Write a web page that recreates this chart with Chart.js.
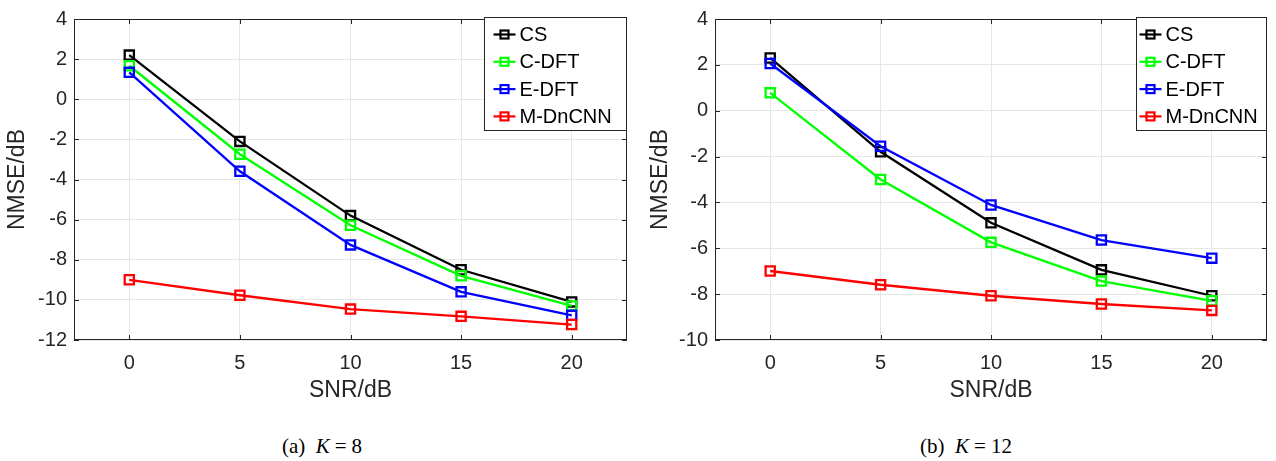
<!DOCTYPE html>
<html>
<head>
<meta charset="utf-8">
<script src="https://cdn.jsdelivr.net/npm/chart.js@4/dist/chart.umd.min.js"></script>
<style>
  body { margin: 0; background: #fff; }
  #wrap { position: relative; width: 1276px; height: 461px; overflow: hidden; }
  .panel { position: absolute; top: 0; width: 638px; height: 405px; }
  .cap { position: absolute; top: 434px; width: 240px; text-align: center;
         font-family: "Liberation Serif", "DejaVu Serif", serif; font-size: 21px; line-height: 24px; color: #000; }
  .cap i { font-style: italic; }
  .cap .eq { margin: 0 5px; }
</style>
</head>
<body>
<div id="wrap">
  <div class="panel" style="left:0"><canvas id="c8" width="638" height="405"></canvas></div>
  <div class="panel" style="left:638px"><canvas id="c12" width="638" height="405"></canvas></div>
  <div class="cap" style="left:202px">(a)&nbsp; <i>K</i><span class="eq">=</span>8</div>
  <div class="cap" style="left:846px">(b)&nbsp; <i>K</i><span class="eq">=</span>12</div>
</div>
<script>
// values
const snr = [0, 5, 10, 15, 20];
const seriesNames = ['CS', 'C-DFT', 'E-DFT', 'M-DnCNN'];

const cs8   = [2.2, -2.1, -5.8, -8.5, -10.1];
const cdft8 = [1.67, -2.74, -6.28, -8.8, -10.3];
const edft8 = [1.34, -3.59, -7.26, -9.6, -10.77];
const mdn8  = [-9.0, -9.77, -10.46, -10.82, -11.23];

const cs12   = [2.3, -1.79, -4.89, -6.94, -8.07];
const cdft12 = [0.78, -3.0, -5.74, -7.43, -8.29];
const edft12 = [2.06, -1.55, -4.11, -5.64, -6.43];
const mdn12  = [-6.99, -7.59, -8.07, -8.43, -8.71];

const xTicks = [0, 5, 10, 15, 20];
const yTicks8 = [-12, -10, -8, -6, -4, -2, 0, 2, 4];
const yTicks12 = [-10, -8, -6, -4, -2, 0, 2, 4];

const colors = ['#000000', '#00ff00', '#0000ff', '#ff0000'];
const axisColor = '#262626';
const sans = '"Liberation Sans", Arial, Helvetica, sans-serif';

// box around the axes with inward ticks, then the legend on top
const matlabBox = {
    id: 'matlabBox',
    afterDraw(chart, args, opts) {
        const { ctx, chartArea: a, scales } = chart;
        ctx.save();
        ctx.strokeStyle = axisColor;
        ctx.lineWidth = 1;
        ctx.strokeRect(a.left + 0.5, a.top + 0.5, a.right - a.left - 1, a.bottom - a.top - 1);
        ctx.beginPath();
        scales.x.ticks.forEach(t => {
            const px = Math.round(scales.x.getPixelForValue(t.value)) + 0.5;
            ctx.moveTo(px, a.bottom); ctx.lineTo(px, a.bottom - 5);
            ctx.moveTo(px, a.top); ctx.lineTo(px, a.top + 5);
        });
        scales.y.ticks.forEach(t => {
            const py = Math.round(scales.y.getPixelForValue(t.value)) + 0.5;
            ctx.moveTo(a.left, py); ctx.lineTo(a.left + 5, py);
            ctx.moveTo(a.right, py); ctx.lineTo(a.right - 5, py);
        });
        ctx.stroke();

        // legend box
        const bw = opts.boxWidth, bh = 113;
        const bx = a.right - bw + 0.5, by = a.top - 1.5;
        ctx.fillStyle = '#fff';
        ctx.fillRect(bx, by, bw, bh);
        ctx.strokeStyle = axisColor;
        ctx.lineWidth = 1;
        ctx.strokeRect(bx, by, bw - 1, bh);
        ctx.font = '20px ' + sans;
        ctx.textBaseline = 'middle';
        ctx.textAlign = 'left';
        chart.data.datasets.forEach((ds, i) => {
            const cy = by + 17 + 27.3 * i;
            const lx = bx + opts.padLeft;
            ctx.strokeStyle = ds.borderColor;
            ctx.lineWidth = 2.2;
            ctx.beginPath();
            ctx.moveTo(lx, cy); ctx.lineTo(lx + 22, cy);
            ctx.stroke();
            ctx.strokeRect(lx + 7, cy - 4, 8, 8);
            ctx.fillStyle = '#000';
            ctx.fillText(ds.label, lx + 26, cy + 1);
        });
        ctx.restore();
    }
};

function makeChart(id, values, yTicks, layout) {
    const datasets = values.map((vals, i) => ({
        label: seriesNames[i],
        data: vals.map((v, j) => ({ x: snr[j], y: v })),
        borderColor: colors[i],
        backgroundColor: 'rgba(0,0,0,0)',
        borderWidth: 2.3,
        pointStyle: 'rect',
        pointRadius: 6.5,
        pointBorderWidth: 2.3,
        pointBackgroundColor: 'rgba(0,0,0,0)',
        pointBorderColor: colors[i],
        tension: 0,
        order: values.length - i,
    }));

    return new Chart(document.getElementById(id), {
        type: 'line',
        data: { datasets },
        plugins: [matlabBox],
        options: {
            responsive: false,
            animation: false,
            devicePixelRatio: 1,
            layout: { padding: { left: 0, right: layout.padRight, top: 13, bottom: 0 } },
            plugins: {
                legend: { display: false },
                tooltip: { enabled: false },
                matlabBox: { boxWidth: layout.boxWidth, padLeft: layout.legendPad },
            },
            scales: {
                x: {
                    type: 'linear',
                    min: -2.5,
                    max: 22.5,
                    afterBuildTicks: s => { s.ticks = xTicks.map(v => ({ value: v })); },
                    afterFit: s => { s.height = 65; },
                    grid: { color: '#e6e6e6', drawTicks: false },
                    border: { display: false },
                    ticks: { color: axisColor, padding: 11, font: { family: sans, size: 20 }, callback: v => String(v) },
                    title: { display: true, text: 'SNR/dB', color: axisColor,
                             font: { family: sans, size: 23 }, padding: { top: 0, bottom: 1 } },
                },
                y: {
                    type: 'linear',
                    min: yTicks[0],
                    max: yTicks[yTicks.length - 1],
                    afterBuildTicks: s => { s.ticks = yTicks.map(v => ({ value: v })); },
                    afterFit: s => { s.width = layout.plotLeft; },
                    grid: { color: '#e6e6e6', drawTicks: false },
                    border: { display: false },
                    ticks: { color: axisColor, padding: 7, font: { family: sans, size: 20 }, callback: v => String(v) },
                    title: { display: true, text: 'NMSE/dB', color: axisColor,
                             font: { family: sans, size: 23 }, padding: { top: layout.titlePad, bottom: 0 } },
                },
            },
        },
    });
}

makeChart('c8', [cs8, cdft8, edft8, mdn8], yTicks8,
    { plotLeft: 74, padRight: 11, titlePad: 4, boxWidth: 143, legendPad: 9 });
makeChart('c12', [cs12, cdft12, edft12, mdn12], yTicks12,
    { plotLeft: 77, padRight: 9, titlePad: 9, boxWidth: 131, legendPad: 3 });
</script>
</body>
</html>
